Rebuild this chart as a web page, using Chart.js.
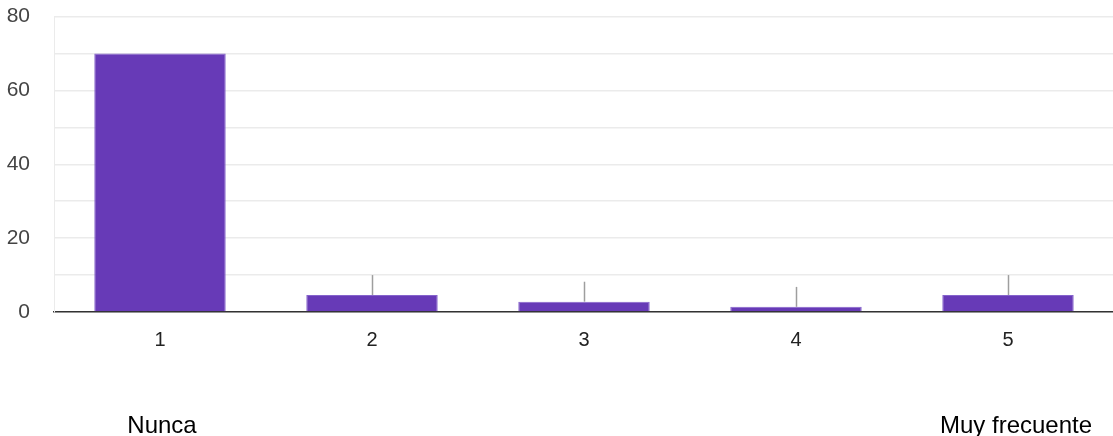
<!DOCTYPE html>
<html>
<head>
<meta charset="utf-8">
<script src="https://cdn.jsdelivr.net/npm/chart.js@4"></script>
<style>
    html, body { margin: 0; padding: 0; background: #fff; overflow: hidden; }
    #wrap { width: 1114px; height: 456px; margin-top: -20px; }
</style>
</head>
<body>
<div id="wrap"><canvas id="freqChart" width="1114" height="456"></canvas></div>
<script>
// datos
const categories = ['1', '2', '3', '4', '5'];
const counts = [70, 4.6, 2.8, 1.4, 4.6];
// altura (en unidades del eje) de las líneas grises sobre cada barra
const stemTops = [null, 10, 8.2, 6.8, 10];
const scaleLabels = ['Nunca', null, null, null, 'Muy frecuente'];
const yTicks = [0, 20, 40, 60, 80];

// líneas grises y etiquetas de los extremos de la escala
const extrasPlugin = {
    id: 'extras',
    afterDatasetsDraw(chart) {
        const ctx = chart.ctx;
        const x = chart.scales.x;
        const y = chart.scales.y;
        ctx.save();
        ctx.strokeStyle = '#9e9e9e';
        ctx.lineWidth = 1.5;
        stemTops.forEach((top, i) => {
            if (top == null) return;
            const px = Math.round(x.getPixelForValue(i)) + 0.5;
            ctx.beginPath();
            ctx.moveTo(px, y.getPixelForValue(counts[i]));
            ctx.lineTo(px, y.getPixelForValue(top));
            ctx.stroke();
        });
        ctx.fillStyle = '#000';
        ctx.font = '24px "Liberation Sans", Arial, sans-serif';
        ctx.textAlign = 'center';
        ctx.textBaseline = 'alphabetic';
        scaleLabels.forEach((txt, i) => {
            if (!txt) return;
            ctx.fillText(txt, x.getPixelForValue(i) + (i === 4 ? 8 : 2), y.bottom + 121);
        });
        ctx.restore();
    }
};

const ctx = document.getElementById('freqChart').getContext('2d');
const freqChart = new Chart(ctx, {
    type: 'bar',
    data: {
        labels: categories,
        datasets: [{
            data: counts,
            backgroundColor: '#673ab7',
            borderColor: '#8563cc',
            borderWidth: 1,
            borderSkipped: 'bottom',
            categoryPercentage: 1,
            barPercentage: 0.62
        }]
    },
    options: {
        responsive: false,
        animation: false,
        layout: { padding: 0 },
        plugins: {
            legend: { display: false },
            tooltip: { enabled: false }
        },
        scales: {
            x: {
                grid: { display: false },
                border: { color: '#333', width: 1.5 },
                ticks: {
                    color: '#222',
                    padding: 8,
                    font: { family: '"Liberation Sans", Arial, sans-serif', size: 20 }
                },
                afterFit(scale) { scale.height = 124; }
            },
            y: {
                min: 0,
                max: 80,
                grid: { color: '#ebebeb', lineWidth: 1.5, drawTicks: false },
                border: { color: '#ebebeb' },
                ticks: {
                    stepSize: 10,
                    color: '#444',
                    padding: 24,
                    font: { family: '"Liberation Sans", Arial, sans-serif', size: 21 },
                    callback: v => yTicks.includes(v) ? v : ''
                },
                afterFit(scale) { scale.width = 54; }
            }
        }
    },
    plugins: [extrasPlugin]
});
</script>
</body>
</html>
